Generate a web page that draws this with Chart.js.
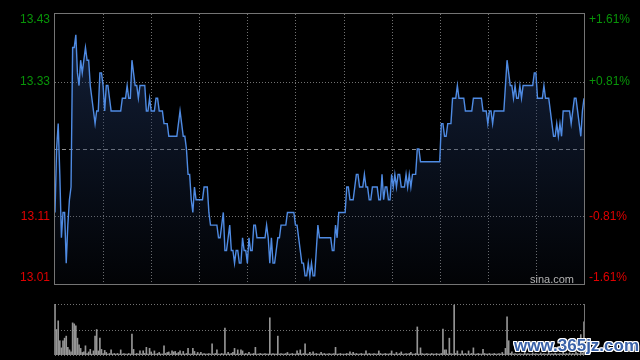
<!DOCTYPE html>
<html>
<head>
<meta charset="utf-8">
<script src="https://cdn.jsdelivr.net/npm/chart.js@4.4.0/dist/chart.umd.min.js"></script>
<style>
  html, body { margin: 0; padding: 0; background: #000; width: 640px; height: 360px; overflow: hidden; }
  #wrap { position: relative; width: 640px; height: 360px; }
  #price { position: absolute; left: 0; top: 0; }
  #vol { position: absolute; left: 0; top: 290px; }
  #mark {
    position: absolute; left: 514px; top: 336px;
    font: bold 17px "Liberation Sans", Arial, sans-serif; color: #3a62a8;
    text-shadow: -1px -1px 0 #fff, 1px -1px 0 #fff, -1px 1px 0 #fff, 1px 1px 0 #fff, 0 1px 0 #fff, 0 -1px 0 #fff, 1px 0 0 #fff, -1px 0 0 #fff;
  }
</style>
</head>
<body>
<div id="wrap">
  <canvas id="price" width="640" height="300"></canvas>
  <canvas id="vol" width="640" height="70"></canvas>
  <div id="mark">www.365jz.com</div>
</div>
<script>
// previous close and the +/- range of the price panel
const prevClose = 13.22
const pctRange = 1.61

// price per minute (HK session 09:30-12:00, 13:00-16:00)
const prices = [
  13.12,13.22,13.26,13.18,13.08,13.12,13.12,13.04,13.10,13.14,
  13.16,13.38,13.38,13.40,13.34,13.32,13.36,13.34,13.36,13.38,
  13.36,13.36,13.32,13.30,13.28,13.26,13.28,13.28,13.34,13.34,
  13.32,13.28,13.32,13.32,13.30,13.28,13.28,13.28,13.28,13.28,
  13.28,13.28,13.30,13.30,13.30,13.32,13.30,13.30,13.36,13.34,
  13.32,13.32,13.30,13.32,13.32,13.32,13.32,13.28,13.28,13.30,
  13.28,13.28,13.28,13.30,13.30,13.28,13.28,13.28,13.26,13.26,
  13.26,13.24,13.24,13.24,13.24,13.24,13.24,13.26,13.28,13.26,
  13.24,13.24,13.22,13.18,13.18,13.14,13.12,13.16,13.14,13.14,
  13.14,13.14,13.14,13.16,13.16,13.16,13.12,13.10,13.10,13.10,
  13.10,13.10,13.08,13.08,13.10,13.12,13.06,13.06,13.08,13.10,
  13.06,13.06,13.04,13.06,13.06,13.04,13.04,13.08,13.06,13.06,
  13.04,13.08,13.06,13.06,13.10,13.10,13.08,13.08,13.08,13.08,
  13.08,13.08,13.10,13.08,13.04,13.08,13.04,13.04,13.06,13.08,
  13.08,13.10,13.10,13.10,13.10,13.12,13.12,13.12,13.12,13.12,
  13.10,13.10,13.08,13.06,13.04,13.04,13.02,13.02,13.04,13.02,
  13.04,13.02,13.02,13.06,13.10,13.08,13.08,13.08,13.08,13.08,
  13.08,13.08,13.08,13.06,13.06,13.10,13.08,13.12,13.12,13.12,
  13.12,13.12,13.16,13.16,13.14,13.14,13.14,13.16,13.18,13.18,
  13.16,13.16,13.16,13.18,13.16,13.16,13.14,13.14,13.16,13.16,
  13.16,13.16,13.14,13.14,13.18,13.14,13.16,13.16,13.14,13.14,
  13.18,13.16,13.18,13.16,13.18,13.18,13.16,13.16,13.16,13.18,
  13.16,13.18,13.16,13.18,13.18,13.18,13.22,13.22,13.20,13.20,
  13.20,13.20,13.20,13.20,13.20,13.20,13.20,13.20,13.20,13.20,
  13.20,13.26,13.26,13.24,13.24,13.26,13.26,13.26,13.30,13.30,
  13.30,13.32,13.30,13.30,13.30,13.30,13.28,13.28,13.28,13.28,
  13.28,13.30,13.30,13.30,13.30,13.30,13.30,13.28,13.28,13.28,
  13.26,13.28,13.28,13.26,13.28,13.28,13.28,13.28,13.28,13.28,
  13.28,13.32,13.36,13.34,13.32,13.32,13.30,13.32,13.30,13.30,
  13.32,13.30,13.32,13.32,13.32,13.32,13.32,13.32,13.32,13.34,
  13.34,13.30,13.30,13.30,13.30,13.32,13.30,13.30,13.30,13.28,
  13.26,13.24,13.24,13.26,13.24,13.26,13.24,13.28,13.28,13.28,
  13.28,13.28,13.26,13.28,13.30,13.30,13.28,13.26,13.24,13.28,
  13.30
]

// volume per minute, relative (100 = tallest bar)
const volumes = [
  100,50,67,28,14,28,33,37,15,10,
  6,63,61,57,33,20,13,5,6,18,
  3,6,11,2,8,37,50,8,33,11,
  3,9,5,2,3,10,2,3,2,3,
  2,10,2,3,2,2,3,2,41,11,
  2,3,2,8,2,8,3,15,2,13,
  6,2,8,2,3,5,2,2,18,3,
  5,6,2,8,6,7,3,5,8,2,
  7,2,3,13,2,2,13,7,2,5,
  2,5,2,3,2,2,3,2,22,2,
  3,10,2,2,3,2,53,2,5,2,
  3,5,13,2,10,2,10,8,2,3,
  2,5,2,2,3,15,2,2,3,2,
  2,3,2,2,73,2,3,2,2,37,
  2,3,2,2,3,5,2,2,3,2,
  2,8,3,10,2,3,22,2,2,5,
  2,6,2,3,2,2,5,2,3,2,
  2,3,2,2,3,15,2,2,3,2,
  2,2,3,2,6,2,5,2,3,2,
  2,3,2,2,8,2,3,2,2,3,
  2,2,8,3,2,2,3,2,2,3,
  8,2,2,5,2,3,6,2,2,3,
  2,3,5,2,2,3,55,2,14,3,
  2,2,3,2,2,3,2,2,3,2,
  2,3,51,10,10,2,33,3,2,98,
  3,8,2,2,8,2,3,2,8,2,
  3,14,2,2,3,2,2,11,3,2,
  2,3,2,2,3,2,2,3,2,5,
  2,13,75,28,3,6,2,3,2,2,
  3,2,2,5,2,3,2,2,4,2,
  3,2,2,4,2,3,2,2,5,2,
  3,2,4,2,2,3,2,5,2,3,
  2,4,2,3,2,6,3,2,40,4,
  65
]

// grid: every half hour, and the price/percent labels
const gridMinutes = [30, 60, 90, 120, 150, 180, 210, 240, 270, 300]
const tickPct = [1.61, 0.805, -0.805, -1.61]
const leftLabels = ['13.43', '13.33', '13.11', '13.01']
const rightLabels = ['+1.61%', '+0.81%', '-0.81%', '-1.61%']

const yMin = prevClose * (1 - pctRange / 100)
const yMax = prevClose * (1 + pctRange / 100)
const lastMinute = prices.length - 1

const crisp = (v) => Math.round(v) + 0.5

const priceDecor = {
  id: 'priceDecor',
  beforeDatasetsDraw(chart) {
    const { ctx, chartArea: a, scales: { x, y } } = chart
    ctx.save()
    ctx.lineWidth = 1
    ctx.strokeStyle = '#727272'
    ctx.setLineDash([1, 2])
    gridMinutes.forEach((m) => {
      const px = crisp(x.getPixelForValue(m))
      ctx.beginPath(); ctx.moveTo(px, a.top); ctx.lineTo(px, a.bottom); ctx.stroke()
    })
    ;[tickPct[1], tickPct[2]].forEach((p) => {
      const py = crisp(y.getPixelForValue(prevClose * (1 + p / 100)))
      ctx.beginPath(); ctx.moveTo(a.left, py); ctx.lineTo(a.right, py); ctx.stroke()
    })
    // previous close
    ctx.strokeStyle = '#8e8e8e'
    ctx.setLineDash([4, 3])
    const pc = crisp(y.getPixelForValue(prevClose))
    ctx.beginPath(); ctx.moveTo(a.left, pc); ctx.lineTo(a.right, pc); ctx.stroke()
    ctx.restore()
  },
  afterDraw(chart) {
    const { ctx, chartArea: a, scales: { y } } = chart
    ctx.save()
    ctx.strokeStyle = '#747474'
    ctx.lineWidth = 1
    ctx.strokeRect(crisp(a.left) - 1, crisp(a.top) - 1, Math.round(a.right - a.left) + 1, Math.round(a.bottom - a.top) + 1)

    ctx.font = '12px "Liberation Sans", Arial, sans-serif'
    ctx.textBaseline = 'middle'
    tickPct.forEach((p, i) => {
      let py = y.getPixelForValue(prevClose * (1 + p / 100))
      if (i === 0) py = a.top + 6
      if (i === tickPct.length - 1) py = a.bottom - 6
      ctx.fillStyle = p > 0 ? '#089408' : '#e00000'
      ctx.textAlign = 'right'
      ctx.fillText(leftLabels[i], 50, py)
      ctx.textAlign = 'left'
      ctx.fillText(rightLabels[i], 589, py)
    })

    ctx.fillStyle = '#b4b4b4'
    ctx.font = '11px "Liberation Sans", Arial, sans-serif'
    ctx.textAlign = 'right'
    ctx.textBaseline = 'alphabetic'
    ctx.fillText('sina.com', 574, a.bottom - 1)
    ctx.restore()
  }
}

const volDecor = {
  id: 'volDecor',
  beforeDatasetsDraw(chart) {
    const { ctx, chartArea: a } = chart
    ctx.save()
    ctx.lineWidth = 1
    ctx.strokeStyle = '#727272'
    ctx.setLineDash([1, 2])
    ;[a.top, (a.top + a.bottom) / 2, a.bottom].forEach((v) => {
      const py = crisp(v)
      ctx.beginPath(); ctx.moveTo(a.left, py); ctx.lineTo(a.right, py); ctx.stroke()
    })
    ctx.setLineDash([])
    ctx.strokeStyle = '#747474'
    ;[a.left - 1, a.right].forEach((v) => {
      const px = crisp(v)
      ctx.beginPath(); ctx.moveTo(px, a.top); ctx.lineTo(px, a.bottom); ctx.stroke()
    })
    ctx.restore()
  }
}

const priceChart = new Chart(document.getElementById('price'), {
  type: 'line',
  data: {
    datasets: [{
      data: prices.map((p, i) => ({ x: i, y: p })),
      borderColor: '#4f8be3',
      borderWidth: 1.4,
      pointRadius: 0,
      tension: 0,
      fill: 'start',
      backgroundColor: (ctx) => {
        const area = ctx.chart.chartArea
        if (!area) return 'rgba(30,50,90,0.4)'
        const g = ctx.chart.ctx.createLinearGradient(0, area.top, 0, area.bottom)
        g.addColorStop(0, 'rgba(34,56,100,0.6)')
        g.addColorStop(0.5, 'rgba(30,50,90,0.35)')
        g.addColorStop(1, 'rgba(30,50,90,0.06)')
        return g
      },
    }],
  },
  options: {
    responsive: false,
    animation: false,
    layout: { padding: { left: 55, right: 56, top: 14, bottom: 16 } },
    plugins: { legend: { display: false }, tooltip: { enabled: false } },
    scales: {
      x: { type: 'linear', min: 0, max: lastMinute, display: false },
      y: { min: yMin, max: yMax, display: false },
    },
  },
  plugins: [priceDecor],
})

const volChart = new Chart(document.getElementById('vol'), {
  type: 'bar',
  data: {
    datasets: [{
      data: volumes.map((v, i) => ({ x: i, y: v })),
      backgroundColor: '#959595',
      barThickness: 1,
    }],
  },
  options: {
    responsive: false,
    animation: false,
    layout: { padding: { left: 55, right: 56, top: 14, bottom: 5 } },
    plugins: { legend: { display: false }, tooltip: { enabled: false } },
    scales: {
      x: { type: 'linear', min: 0, max: lastMinute, offset: false, display: false },
      y: { min: 0, max: 100, display: false },
    },
  },
  plugins: [volDecor],
})
</script>
</body>
</html>
